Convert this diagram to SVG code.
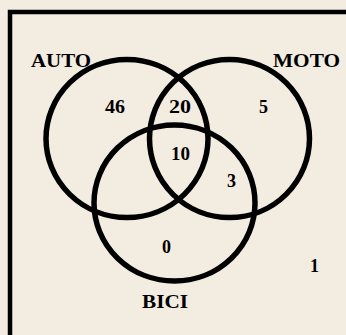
<svg xmlns="http://www.w3.org/2000/svg" width="346" height="335" viewBox="0 0 346 335">
<style>
.bg{fill:#f3ece0}
.frame{fill:none;stroke:#000;stroke-width:4.5}
.set{fill:none;stroke:#000;stroke-width:5.5}
.t{font-family:"Liberation Serif","Times New Roman",serif;font-weight:bold;font-size:18px;fill:#000}
</style>
<rect class="bg" x="0" y="0" width="346" height="335"/>
<rect class="frame" x="10" y="12" width="400" height="400"/>
<g id="auto">
<ellipse class="set" cx="127" cy="138.5" rx="81" ry="79"/>
<text class="t" x="31" y="67" textLength="60" lengthAdjust="spacingAndGlyphs">AUTO</text>
</g>
<g id="moto">
<ellipse class="set" cx="229.5" cy="138.5" rx="80" ry="79"/>
<text class="t" x="273" y="67" textLength="67" lengthAdjust="spacingAndGlyphs">MOTO</text>
</g>
<g id="bici">
<ellipse class="set" cx="174.5" cy="203" rx="80.5" ry="78"/>
<text class="t" x="142" y="308" textLength="46" lengthAdjust="spacingAndGlyphs">BICI</text>
</g>
<g id="counts">
<text class="t" x="105" y="113" textLength="20" lengthAdjust="spacingAndGlyphs">46</text>
<text class="t" x="169" y="113" textLength="22" lengthAdjust="spacingAndGlyphs">20</text>
<text class="t" x="259" y="113">5</text>
<text class="t" x="171" y="160" textLength="19" lengthAdjust="spacingAndGlyphs">10</text>
<text class="t" x="227" y="187">3</text>
<text class="t" x="162" y="253">0</text>
<text class="t" x="310" y="272">1</text>
</g>
</svg>
